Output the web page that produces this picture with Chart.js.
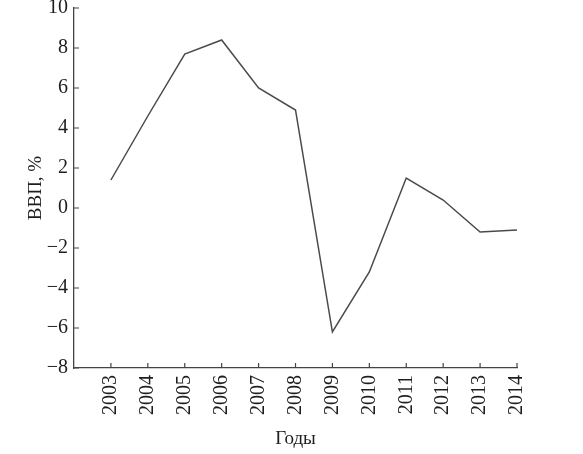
<!DOCTYPE html>
<html>
<head>
<meta charset="utf-8">
<script src="https://cdn.jsdelivr.net/npm/chart.js@4/dist/chart.umd.min.js"></script>
<style>
  html, body { margin: 0; padding: 0; background: #fff; }
  #wrap { width: 583px; height: 454px; }
</style>
</head>
<body>
<div id="wrap"><canvas id="myChart"></canvas></div>
<script>
// data
const years = [2003, 2004, 2005, 2006, 2007, 2008, 2009, 2010, 2011, 2012, 2013, 2014];
const gdp = [1.4, 4.6, 7.7, 8.4, 6.0, 4.9, -6.2, -3.2, 1.5, 0.4, -1.2, -1.1];
const yTicks = [-8, -6, -4, -2, 0, 2, 4, 6, 8, 10];

const axisColor = '#444';
const textColor = '#1e1e1e';
const serif = "'Liberation Serif', 'DejaVu Serif', serif";

// small tick marks pointing into the plot
const innerTicks = {
    id: 'innerTicks',
    afterDraw(chart) {
        const ctx = chart.ctx;
        const x = chart.scales.x, y = chart.scales.y;
        ctx.save();
        ctx.strokeStyle = axisColor;
        ctx.lineWidth = 1.2;
        ctx.beginPath();
        years.forEach(v => {
            const px = x.getPixelForValue(v);
            ctx.moveTo(px, x.top);
            ctx.lineTo(px, x.top - 5);
        });
        yTicks.forEach(v => {
            const py = y.getPixelForValue(v);
            ctx.moveTo(y.right, py);
            ctx.lineTo(y.right + 5, py);
        });
        ctx.stroke();
        ctx.restore();
    }
};

const config = {
    type: 'line',
    data: {
        datasets: [{
            label: 'ВВП, %',
            data: years.map((yr, i) => ({ x: yr, y: gdp[i] })),
            borderColor: '#4a4a4a',
            borderWidth: 1.5,
            pointRadius: 0,
            tension: 0,
            fill: false
        }]
    },
    options: {
        responsive: true,
        maintainAspectRatio: false,
        animation: false,
        layout: {
            padding: { top: 8, right: 66, bottom: 0, left: 0 }
        },
        plugins: {
            legend: { display: false },
            tooltip: { enabled: false }
        },
        scales: {
            x: {
                type: 'linear',
                min: 2002,
                max: 2014,
                afterFit: s => { s.height = 86; s.paddingLeft = 0; s.paddingRight = 0; },
                afterBuildTicks: s => { s.ticks = years.map(v => ({ value: v })); },
                border: { display: true, color: axisColor, width: 1.3 },
                grid: { drawOnChartArea: false, drawTicks: false },
                ticks: {
                    autoSkip: false,
                    minRotation: 90,
                    maxRotation: 90,
                    padding: 7,
                    color: textColor,
                    font: { family: serif, size: 20 },
                    callback: v => String(v)
                },
                title: {
                    display: true,
                    text: 'Годы',
                    color: textColor,
                    font: { family: serif, size: 19 },
                    padding: { top: 0, bottom: 4 }
                }
            },
            y: {
                min: -8,
                max: 10,
                afterFit: s => { s.width = 74; s.paddingTop = 0; s.paddingBottom = 0; },
                afterBuildTicks: s => { s.ticks = yTicks.map(v => ({ value: v })); },
                border: { display: true, color: axisColor, width: 1.3 },
                grid: { drawOnChartArea: false, drawTicks: false },
                ticks: {
                    padding: 6,
                    color: textColor,
                    font: { family: serif, size: 20 },
                    callback: v => (v < 0 ? '\u2212' + Math.abs(v) : String(v))
                },
                title: {
                    display: true,
                    text: 'ВВП, %',
                    color: textColor,
                    font: { family: serif, size: 19 },
                    padding: { top: 25, bottom: 0 }
                }
            }
        }
    },
    plugins: [innerTicks]
};

const myChart = new Chart(document.getElementById('myChart'), config);
</script>
</body>
</html>
